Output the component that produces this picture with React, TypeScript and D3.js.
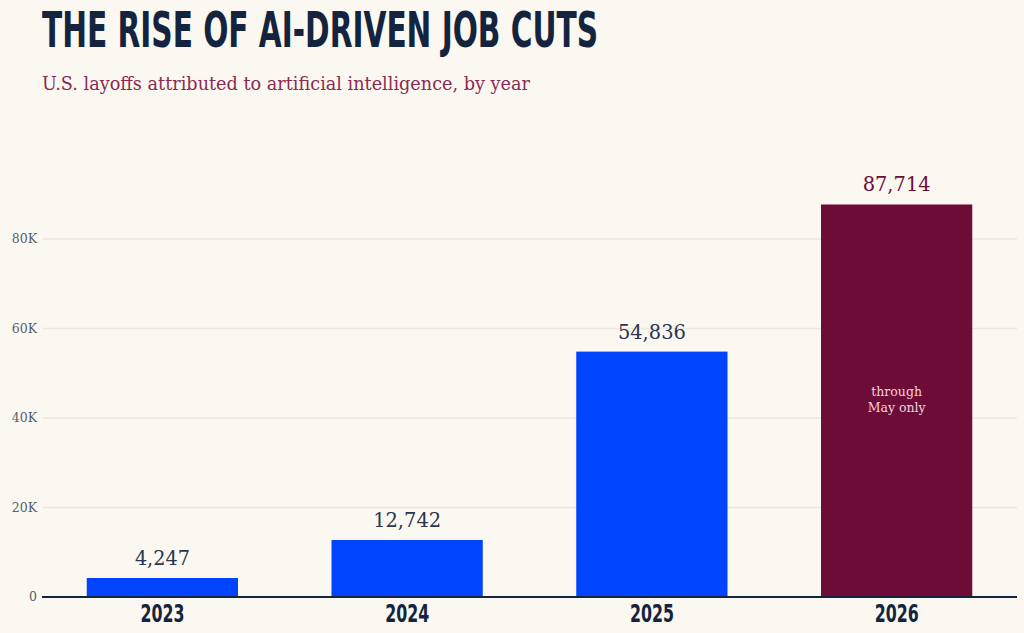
import React from "react";
import * as d3 from "d3";

const width = 1024;
const height = 633;
const margin = { top: 150, right: 6, bottom: 36, left: 40 };

// layoffs attributed to AI, by year
const years = ["2023", "2024", "2025", "2026"];
const layoffs = [4247, 12742, 54836, 87714];
const partialYear = "2026";
const yTicks = [0, 20000, 40000, 60000, 80000];
const yTickLabels = ["0", "20K", "40K", "60K", "80K"];

const colors = {
  bg: "#fbf8f1",
  navy: "#14243f",
  blue: "#0044ff",
  maroon: "#6e0c38",
  grid: "#ebe8df",
  tick: "#555f70",
  sub: "#8a2a50",
};

const serif = "'DejaVu Serif', 'Liberation Serif', serif";
const condensed = "'DejaVu Sans Condensed', 'DejaVu Sans', sans-serif";

const App = () => {
  const baseline = height - margin.bottom;

  const xScale = d3
    .scaleBand<string>()
    .domain(years)
    .range([margin.left, width - margin.right + 1])
    .paddingInner(0.382)
    .paddingOuter(0.191);

  const yScale = d3
    .scaleLinear()
    .domain([0, 80000])
    .range([baseline, 239]);

  const data = years.map((y, i) => ({ year: y, value: layoffs[i] }));

  return (
    <div style={{ position: "fixed", inset: 0, background: colors.bg }}>
      <svg width={width} height={height} style={{ display: "block" }}>
        <rect width={width} height={height} fill={colors.bg} />

        {/* title + subtitle */}
        <text
          x={42}
          y={47}
          fontFamily={condensed}
          fontWeight="bold"
          fontSize={50}
          fill={colors.navy}
          textLength={556}
          lengthAdjust="spacingAndGlyphs"
        >
          THE RISE OF AI-DRIVEN JOB CUTS
        </text>
        <text
          x={42}
          y={90}
          fontFamily={serif}
          fontSize={18}
          fill={colors.sub}
          textLength={488}
          lengthAdjust="spacingAndGlyphs"
        >
          U.S. layoffs attributed to artificial intelligence, by year
        </text>

        {/* gridlines and y tick labels */}
        {yTicks.map((t, i) => (
          <g key={t}>
            {t > 0 && (
              <line
                x1={43}
                x2={width - 7}
                y1={yScale(t)}
                y2={yScale(t)}
                stroke={colors.grid}
                strokeWidth={1.5}
              />
            )}
            <text
              x={37}
              y={yScale(t)}
              dy="0.35em"
              textAnchor="end"
              fontFamily={serif}
              fontSize={12.5}
              fill={colors.tick}
            >
              {yTickLabels[i]}
            </text>
          </g>
        ))}

        {/* bars */}
        {data.map((d) => {
          const x = xScale(d.year)!;
          const bw = xScale.bandwidth();
          const partial = d.year === partialYear;
          const top = yScale(d.value);
          return (
            <g key={d.year}>
              <rect
                x={x}
                y={top}
                width={bw}
                height={baseline - top}
                fill={partial ? colors.maroon : colors.blue}
              />
              <text
                x={x + bw / 2}
                y={top - 13}
                textAnchor="middle"
                fontFamily={serif}
                fontSize={20}
                fill={partial ? colors.maroon : "#2b3550"}
                textLength={d.value >= 10000 ? 68 : 55}
                lengthAdjust="spacingAndGlyphs"
              >
                {d3.format(",")(d.value)}
              </text>
              {partial && (
                <text
                  x={x + bw / 2}
                  y={(top + baseline) / 2 - 5}
                  textAnchor="middle"
                  fontFamily={serif}
                  fontSize={12.5}
                  fill="#f1d3de"
                >
                  <tspan x={x + bw / 2}>through</tspan>
                  <tspan x={x + bw / 2} dy={16}>
                    May only
                  </tspan>
                </text>
              )}
              <text
                x={x + bw / 2}
                y={622}
                textAnchor="middle"
                fontFamily={condensed}
                fontWeight="bold"
                fontSize={24}
                fill={colors.navy}
                textLength={44}
                lengthAdjust="spacingAndGlyphs"
              >
                {d.year}
              </text>
            </g>
          );
        })}

        {/* x axis baseline */}
        <line
          x1={42}
          x2={width - 7}
          y1={baseline}
          y2={baseline}
          stroke={colors.navy}
          strokeWidth={2}
        />
      </svg>
    </div>
  );
};

export default App;
